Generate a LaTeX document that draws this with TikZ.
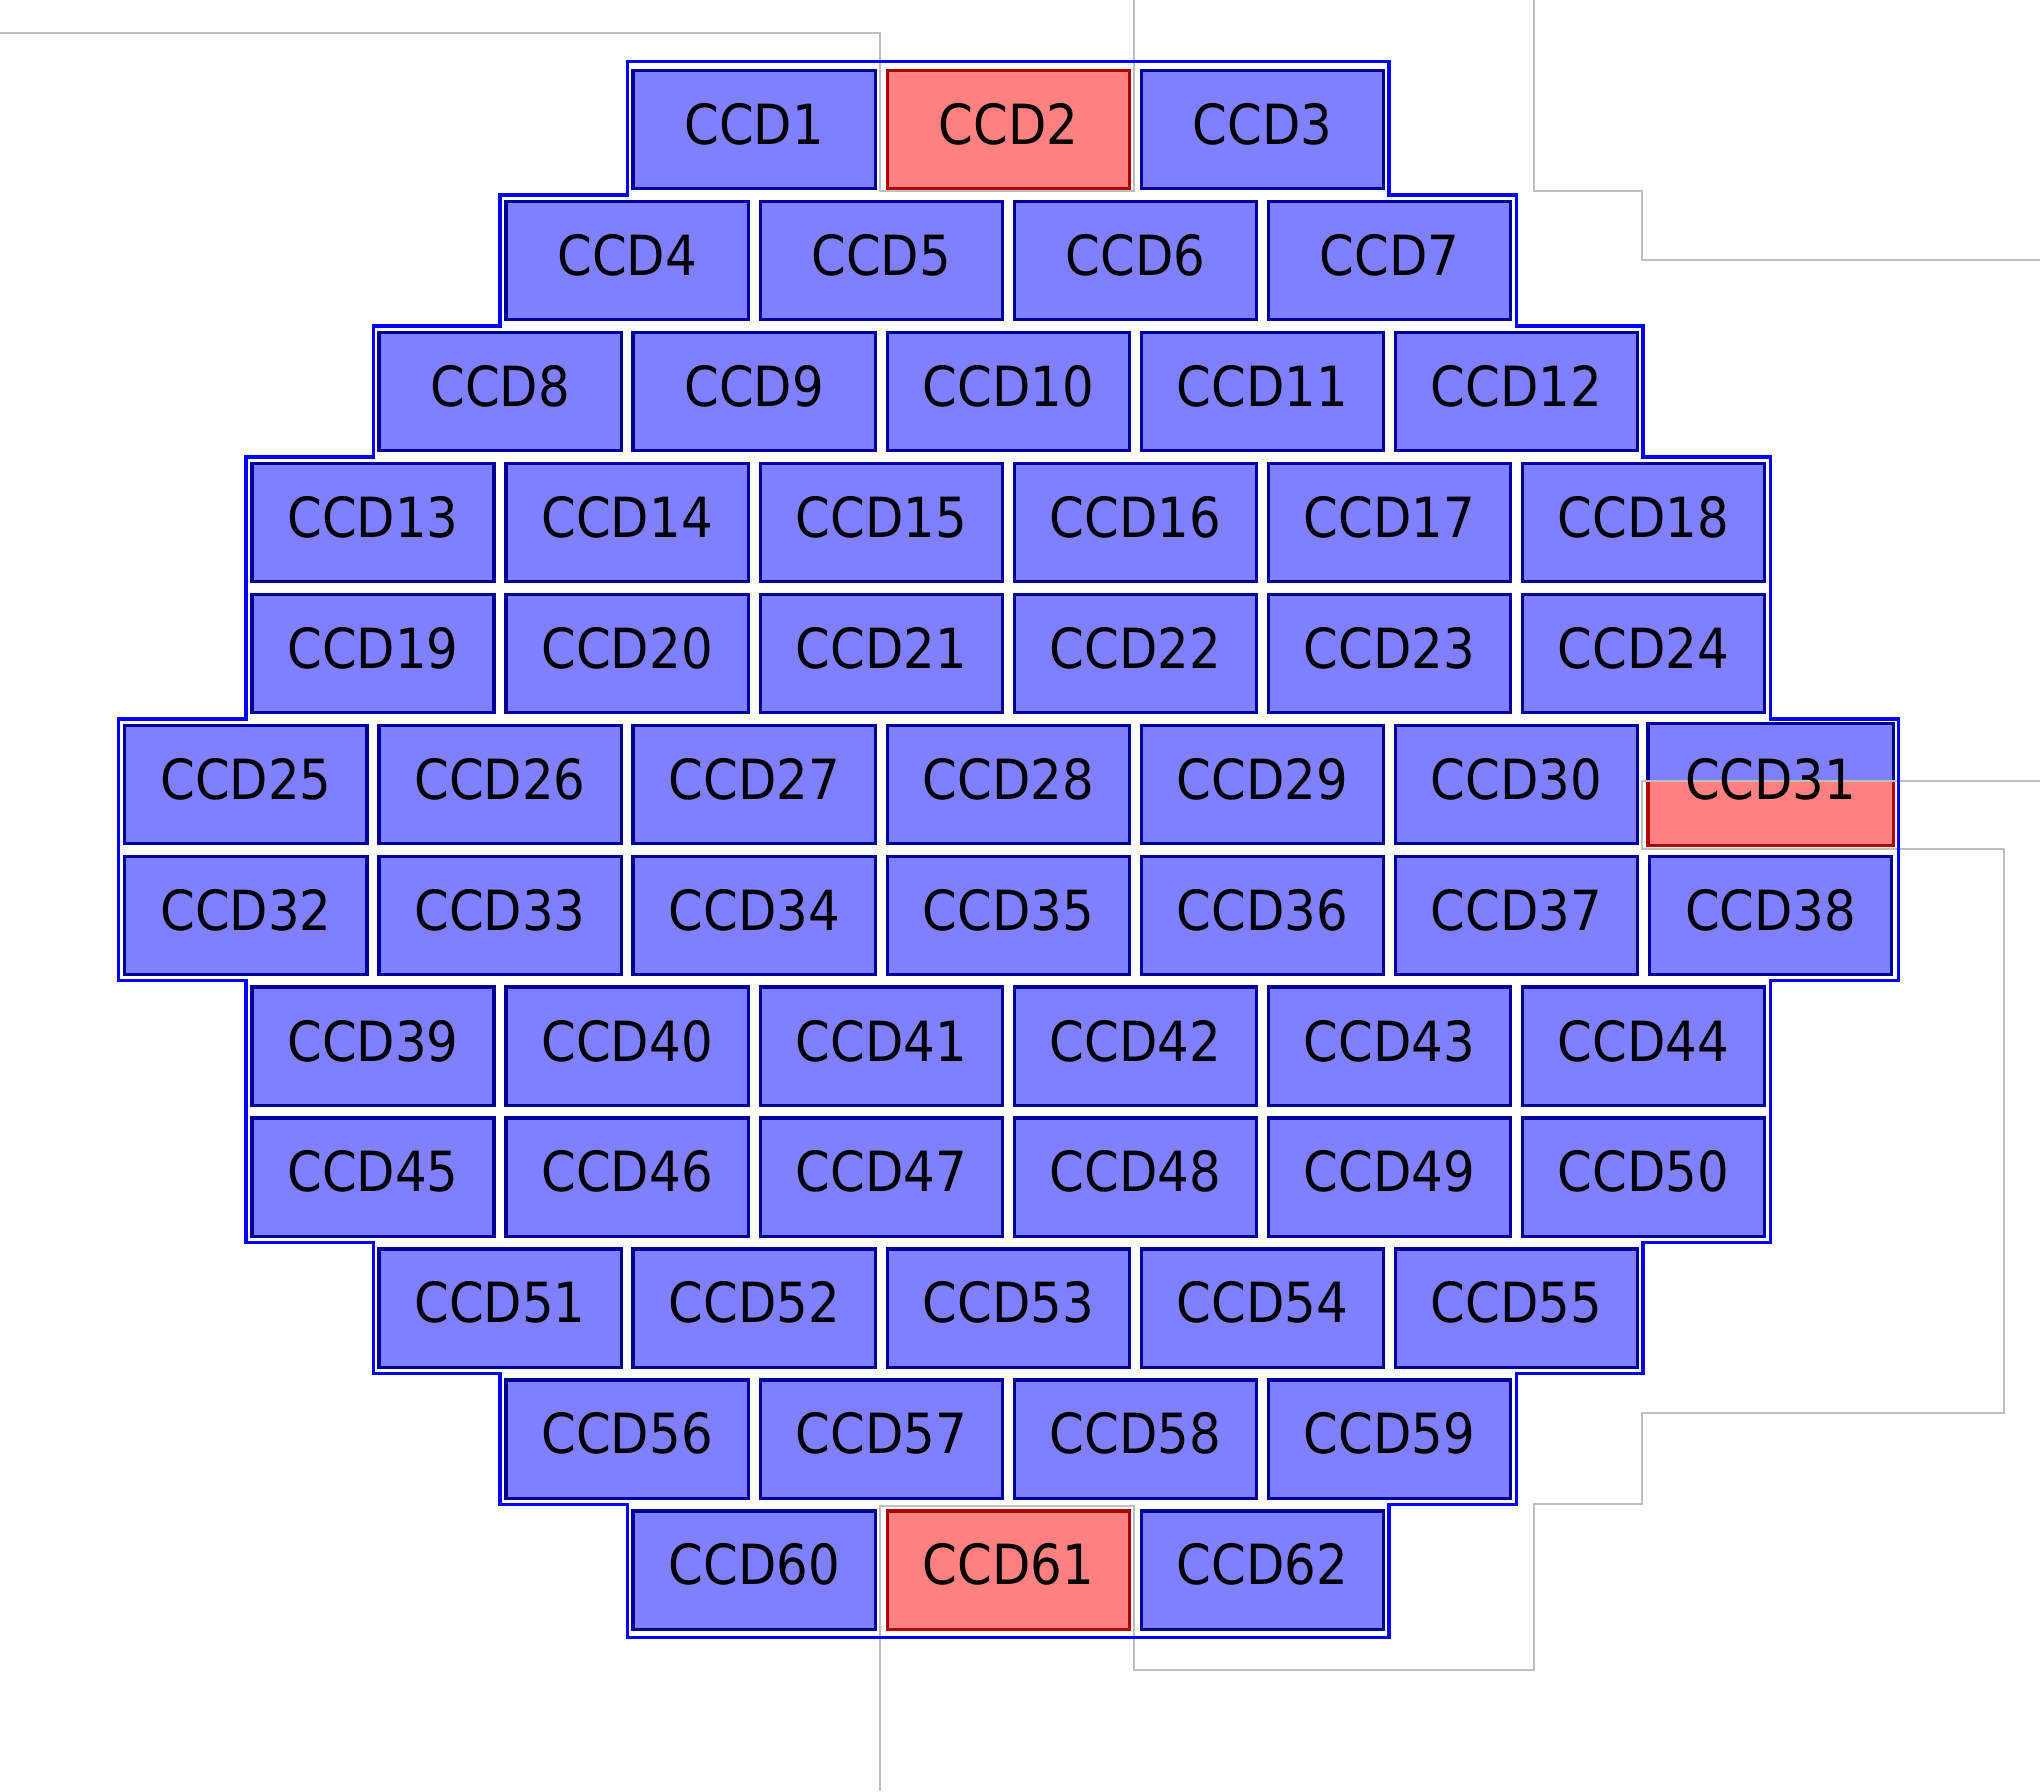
\documentclass[tikz,border=0pt]{standalone}
\usepackage{fontspec}
\setmainfont{DejaVu Sans Condensed}
\usetikzlibrary{backgrounds}

\begin{document}
\begin{tikzpicture} [thin,
			chip/.style={draw=blue!60!black,fill=blue!50,line width=0.7pt,minimum width=1.86cm,minimum height=0.91cm,inner sep=0pt,text depth=0.09cm,font=\fontsize{12.1}{13}\selectfont},
			dead chip/.style={chip,draw=red!70!black,fill=red!50},
			bare chip/.style={chip,draw=none,fill=none},
			focal plane/.style={blue,line width=0.7pt},
			readout/.style={gray!50,line width=0.45pt}]

		\useasboundingbox (0,0) rectangle (15.67,-13.76);

		% readout regions
		\draw [readout] (0,-0.25) -- (6.76,-0.25) -- (6.76,-1.47) -- (8.71,-1.47) -- (8.71,0);
		\draw [readout] (11.78,0) -- (11.78,-1.47) -- (12.61,-1.47) -- (12.61,-2.00) -- (15.67,-2.00);
		\draw [readout] (15.67,-6.00) -- (12.61,-6.00) -- (12.61,-6.52) -- (15.39,-6.52) -- (15.39,-10.85)
			-- (12.61,-10.85) -- (12.61,-11.55) -- (11.78,-11.55) -- (11.78,-12.83) -- (8.71,-12.83)
			-- (8.71,-11.57) -- (6.76,-11.57) -- (6.76,-13.76);

		% focal plane outline
		\draw [focal plane] (4.82,-0.475) -- (10.67,-0.475) -- (10.67,-1.498) -- (11.65,-1.498) -- (11.65,-2.504)
			-- (12.62,-2.504) -- (12.62,-3.510) -- (13.60,-3.510) -- (13.60,-5.522) -- (14.58,-5.522)
			-- (14.58,-7.534) -- (13.60,-7.534) -- (13.60,-9.546) -- (12.62,-9.546) -- (12.62,-10.552)
			-- (11.65,-10.552) -- (11.65,-11.558) -- (10.67,-11.558) -- (10.67,-12.576) -- (4.82,-12.576)
			-- (4.82,-11.558) -- (3.84,-11.558) -- (3.84,-10.552) -- (2.87,-10.552) -- (2.87,-9.546)
			-- (1.89,-9.546) -- (1.89,-7.534) -- (0.91,-7.534) -- (0.91,-5.522) -- (1.89,-5.522)
			-- (1.89,-3.510) -- (2.87,-3.510) -- (2.87,-2.504) -- (3.84,-2.504) -- (3.84,-1.498)
			-- (4.82,-1.498) -- cycle;

		% row 1
		\node [chip] (CCD1) at (5.793,-0.995) {CCD1};
		\node [dead chip] (CCD2) at (7.745,-0.995) {CCD2};
		\node [chip] (CCD3) at (9.697,-0.995) {CCD3};
		% row 2
		\node [chip] (CCD4) at (4.817,-2.001) {CCD4};
		\node [chip] (CCD5) at (6.769,-2.001) {CCD5};
		\node [chip] (CCD6) at (8.721,-2.001) {CCD6};
		\node [chip] (CCD7) at (10.673,-2.001) {CCD7};
		% row 3
		\node [chip] (CCD8) at (3.841,-3.007) {CCD8};
		\node [chip] (CCD9) at (5.793,-3.007) {CCD9};
		\node [chip] (CCD10) at (7.745,-3.007) {CCD10};
		\node [chip] (CCD11) at (9.697,-3.007) {CCD11};
		\node [chip] (CCD12) at (11.649,-3.007) {CCD12};
		% row 4
		\node [chip] (CCD13) at (2.865,-4.013) {CCD13};
		\node [chip] (CCD14) at (4.817,-4.013) {CCD14};
		\node [chip] (CCD15) at (6.769,-4.013) {CCD15};
		\node [chip] (CCD16) at (8.721,-4.013) {CCD16};
		\node [chip] (CCD17) at (10.673,-4.013) {CCD17};
		\node [chip] (CCD18) at (12.625,-4.013) {CCD18};
		% row 5
		\node [chip] (CCD19) at (2.865,-5.019) {CCD19};
		\node [chip] (CCD20) at (4.817,-5.019) {CCD20};
		\node [chip] (CCD21) at (6.769,-5.019) {CCD21};
		\node [chip] (CCD22) at (8.721,-5.019) {CCD22};
		\node [chip] (CCD23) at (10.673,-5.019) {CCD23};
		\node [chip] (CCD24) at (12.625,-5.019) {CCD24};
		% row 6
		\node [chip] (CCD25) at (1.889,-6.025) {CCD25};
		\node [chip] (CCD26) at (3.841,-6.025) {CCD26};
		\node [chip] (CCD27) at (5.793,-6.025) {CCD27};
		\node [chip] (CCD28) at (7.745,-6.025) {CCD28};
		\node [chip] (CCD29) at (9.697,-6.025) {CCD29};
		\node [chip] (CCD30) at (11.649,-6.025) {CCD30};
		\node [bare chip] (CCD31) at (13.601,-6.025) {CCD31};
		\begin{scope}[on background layer]
			\filldraw [chip] (CCD31.north west) rectangle (CCD31.south east);
			\fill [red!50] ([yshift=0.02cm]CCD31.west) rectangle (CCD31.south east);
			\draw [red!70!black,line width=0.7pt] ([yshift=0.02cm]CCD31.west) -- (CCD31.south west)
				-- (CCD31.south east) -- ([yshift=0.02cm]CCD31.east);
		\end{scope}
		% row 7
		\node [chip] (CCD32) at (1.889,-7.031) {CCD32};
		\node [chip] (CCD33) at (3.841,-7.031) {CCD33};
		\node [chip] (CCD34) at (5.793,-7.031) {CCD34};
		\node [chip] (CCD35) at (7.745,-7.031) {CCD35};
		\node [chip] (CCD36) at (9.697,-7.031) {CCD36};
		\node [chip] (CCD37) at (11.649,-7.031) {CCD37};
		\node [chip] (CCD38) at (13.601,-7.031) {CCD38};
		% row 8
		\node [chip] (CCD39) at (2.865,-8.037) {CCD39};
		\node [chip] (CCD40) at (4.817,-8.037) {CCD40};
		\node [chip] (CCD41) at (6.769,-8.037) {CCD41};
		\node [chip] (CCD42) at (8.721,-8.037) {CCD42};
		\node [chip] (CCD43) at (10.673,-8.037) {CCD43};
		\node [chip] (CCD44) at (12.625,-8.037) {CCD44};
		% row 9
		\node [chip] (CCD45) at (2.865,-9.043) {CCD45};
		\node [chip] (CCD46) at (4.817,-9.043) {CCD46};
		\node [chip] (CCD47) at (6.769,-9.043) {CCD47};
		\node [chip] (CCD48) at (8.721,-9.043) {CCD48};
		\node [chip] (CCD49) at (10.673,-9.043) {CCD49};
		\node [chip] (CCD50) at (12.625,-9.043) {CCD50};
		% row 10
		\node [chip] (CCD51) at (3.841,-10.049) {CCD51};
		\node [chip] (CCD52) at (5.793,-10.049) {CCD52};
		\node [chip] (CCD53) at (7.745,-10.049) {CCD53};
		\node [chip] (CCD54) at (9.697,-10.049) {CCD54};
		\node [chip] (CCD55) at (11.649,-10.049) {CCD55};
		% row 11
		\node [chip] (CCD56) at (4.817,-11.055) {CCD56};
		\node [chip] (CCD57) at (6.769,-11.055) {CCD57};
		\node [chip] (CCD58) at (8.721,-11.055) {CCD58};
		\node [chip] (CCD59) at (10.673,-11.055) {CCD59};
		% row 12
		\node [chip] (CCD60) at (5.793,-12.061) {CCD60};
		\node [dead chip] (CCD61) at (7.745,-12.061) {CCD61};
		\node [chip] (CCD62) at (9.697,-12.061) {CCD62};
		\end{tikzpicture}
\end{document}
